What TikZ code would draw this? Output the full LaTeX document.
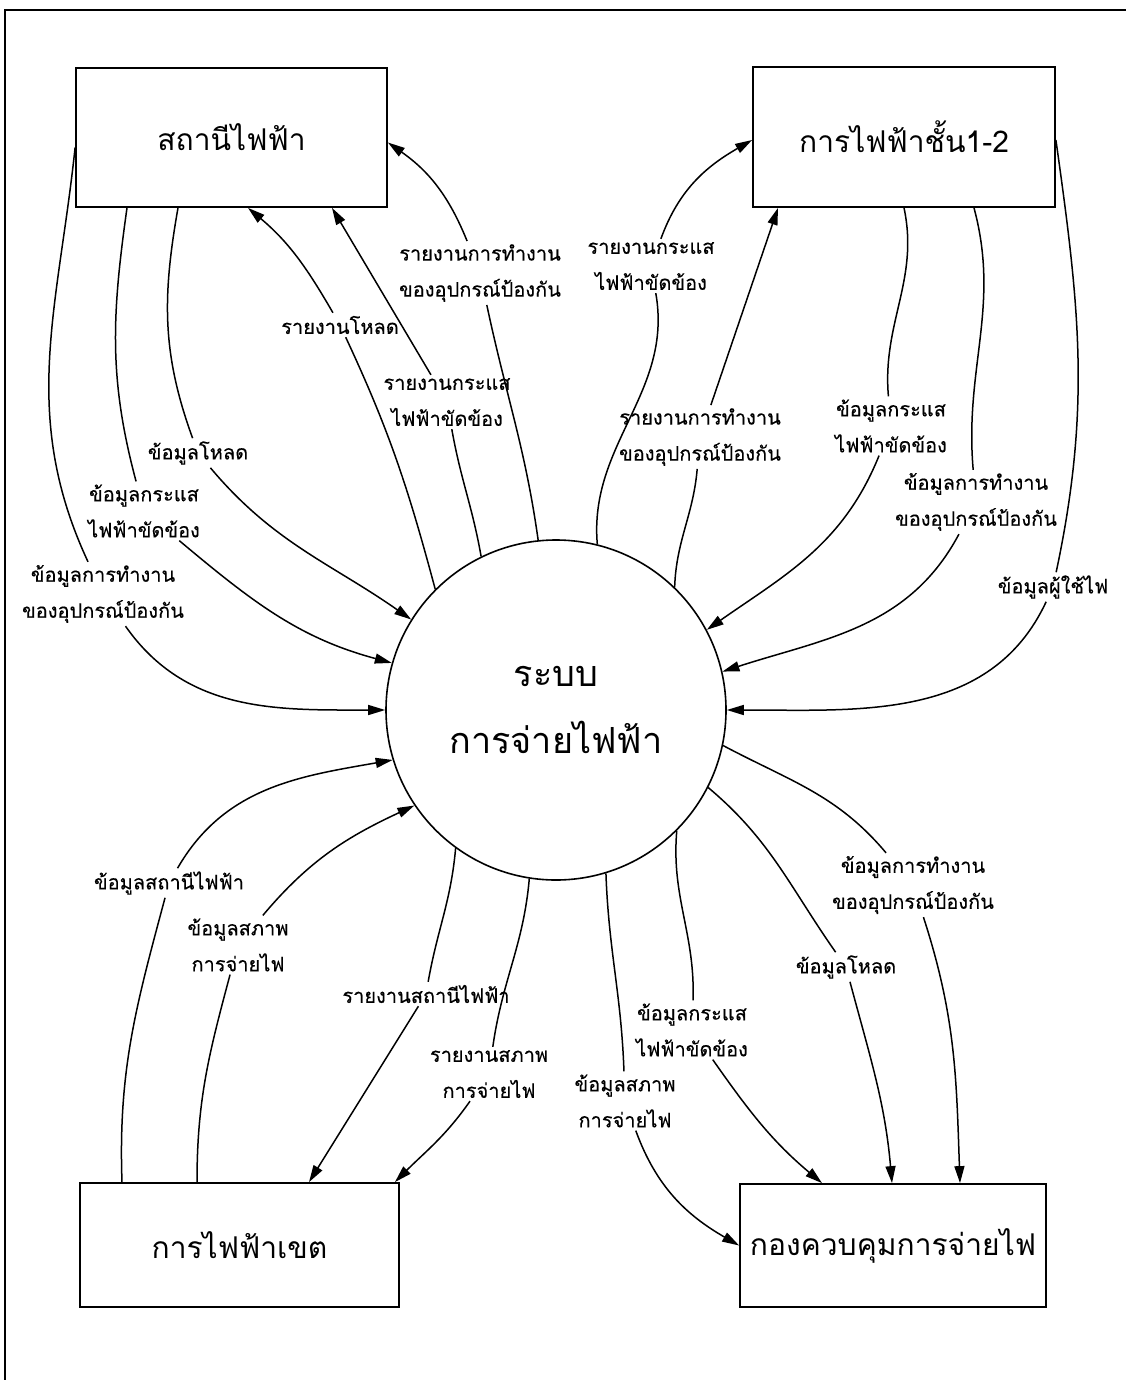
\documentclass[tikz,border=0pt]{standalone}
\usepackage{fontspec}
\newfontfamily\thai[Script=Thai]{Loma}
\newfontfamily\thailbl[Script=Thai,FakeBold=0.3]{Loma}
\usetikzlibrary{arrows.meta}
\begin{document}
\begin{tikzpicture}[x=1pt,y=1pt,
  box/.style={draw,line width=1.8pt,rectangle,inner sep=0pt,
    font={\thai\fontsize{30}{36}\selectfont}},
  proc/.style={draw,line width=1.6pt,circle,inner sep=0pt,minimum size=340pt,
    align=center,font={\thai\fontsize{36}{67}\selectfont}},
  lbl/.style={inner sep=3pt,align=center,font={\thailbl\fontsize{20}{36}\selectfont}},
  flow/.style={line width=1.5pt,-{Triangle[length=17pt,width=10pt]}}]
\useasboundingbox (0,0) rectangle (1126,-1380);
\fill[white] (0,0) rectangle (1126,-1380);
% page frame
\draw[line width=2pt] (5,-1380) -- (5,-10) -- (1126,-10);

% process and external entities
\node[proc] (c) at (556,-710) {ระบบ\\การจ่ายไฟฟ้า};
\node[box,minimum width=311pt,minimum height=139pt] (b1) at (231.5,-137.5) {สถานีไฟฟ้า};
\node[box,minimum width=302pt,minimum height=140pt] (b2) at (904,-137) {การไฟฟ้าชั้น1-2};
\node[box,minimum width=319pt,minimum height=124pt] (b3) at (239.5,-1245) {การไฟฟ้าเขต};
\node[box,minimum width=306pt,minimum height=123pt] (b4) at (893,-1245.5) {กองควบคุมการจ่ายไฟ};

% flow labels
\node[lbl] (LA) at (103,-594) {ข้อมูลการทำงาน\\ของอุปกรณ์ป้องกัน};
\node[lbl] (LB) at (144,-511) {ข้อมูลกระแส\\ไฟฟ้าขัดข้อง};
\node[lbl] (LC) at (198,-453) {ข้อมูลโหลด};
\node[lbl] (LD) at (340,-325) {รายงานโหลด};
\node[lbl] (LE) at (447,-402) {รายงานกระแส\\ไฟฟ้าขัดข้อง};
\node[lbl] (LF) at (480,-273) {รายงานการทำงาน\\ของอุปกรณ์ป้องกัน};
\node[lbl] (LG) at (651,-266) {รายงานกระแส\\ไฟฟ้าขัดข้อง};
\node[lbl] (LH) at (700,-437) {รายงานการทำงาน\\ของอุปกรณ์ป้องกัน};
\node[lbl] (LI) at (891,-426) {ข้อมูลกระแส\\ไฟฟ้าขัดข้อง};
\node[lbl] (LJ) at (976,-502) {ข้อมูลการทำงาน\\ของอุปกรณ์ป้องกัน};
\node[lbl] (LK) at (1053,-587) {ข้อมูลผู้ใช้ไฟ};
\node[lbl] (LL) at (169,-883) {ข้อมูลสถานีไฟฟ้า};
\node[lbl] (LM) at (238,-945) {ข้อมูลสภาพ\\การจ่ายไฟ};
\node[lbl] (LN) at (426,-994) {รายงานสถานีไฟฟ้า};
\node[lbl] (LO) at (489,-1074) {รายงานสภาพ\\การจ่ายไฟ};
\node[lbl] (LP) at (625,-1101) {ข้อมูลสภาพ\\การจ่ายไฟ};
\node[lbl] (LQ) at (692,-1030) {ข้อมูลกระแส\\ไฟฟ้าขัดข้อง};
\node[lbl] (LR) at (846,-967) {ข้อมูลโหลด};
\node[lbl] (LS) at (913,-885) {ข้อมูลการทำงาน\\ของอุปกรณ์ป้องกัน};

% สถานีไฟฟ้า
\draw[flow] ([yshift=-10]b1.west) to[out=-96,in=115] (LA) to[out=-55,in=180] (c.180);
\draw[flow] ([xshift=-104.5]b1.south) to[out=-98,in=105] (LB) to[out=-40,in=165] (c.164);
\draw[flow] ([xshift=-53.5]b1.south) to[out=-100,in=110] (LC) to[out=-50,in=145] (c.148);
\draw[flow] (c.135) to[out=105,in=-65] (LD) to[out=120,in=-40] ([xshift=16.5]b1.south);
\draw[flow] (c.116) to[out=100,in=-80] (LE) -- ([xshift=100.5]b1.south);
\draw[flow] (c.96) to[out=98,in=-78] (LF) to[out=112,in=-35] ([yshift=-5]b1.east);

% การไฟฟ้าชั้น1-2
\draw[flow] (c.76) to[out=95,in=-80] (LG) to[out=70,in=-150] ([yshift=-3]b2.west);
\draw[flow] (c.46) to[out=88,in=-95] (LH) -- ([xshift=-126]b2.south);
\draw[flow] (b2.south) to[out=-78,in=95] (LI) to[out=-112,in=35] (c.28);
\draw[flow] ([xshift=70]b2.south) to[out=-75,in=95] (LJ) to[out=-118,in=18] (c.13);
\draw[flow] ([yshift=-3]b2.east) to[out=-82,in=78] (LK) to[out=-115,in=0] (c.0);

% การไฟฟ้าเขต
\draw[flow] ([xshift=-117.5]b3.north) to[out=92,in=-105] (LL) to[out=60,in=-170] (c.197);
\draw[flow] ([xshift=-42.5]b3.north) to[out=90,in=-105] (LM) to[out=50,in=-155] (c.214);
\draw[flow] (c.234) to[out=-95,in=80] (LN) -- ([xshift=69.5]b3.north);
\draw[flow] (c.261) to[out=-95,in=82] (LO) to[out=-125,in=45] ([xshift=-5]b3.north east);

% กองควบคุมการจ่ายไฟ
\draw[flow] (c.-73) to[out=-88,in=92] (LP) to[out=-70,in=150] (b4.west);
\draw[flow] (c.-45) to[out=-95,in=88] (LQ) to[out=-55,in=140] ([xshift=-71]b4.north);
\draw[flow] (c.-27) to[out=-40,in=125] (LR) to[out=-75,in=95] ([xshift=-1]b4.north);
\draw[flow] (c.-12) to[out=-28,in=130] (LS) to[out=-72,in=92] ([xshift=67]b4.north);
\end{tikzpicture}
\end{document}
